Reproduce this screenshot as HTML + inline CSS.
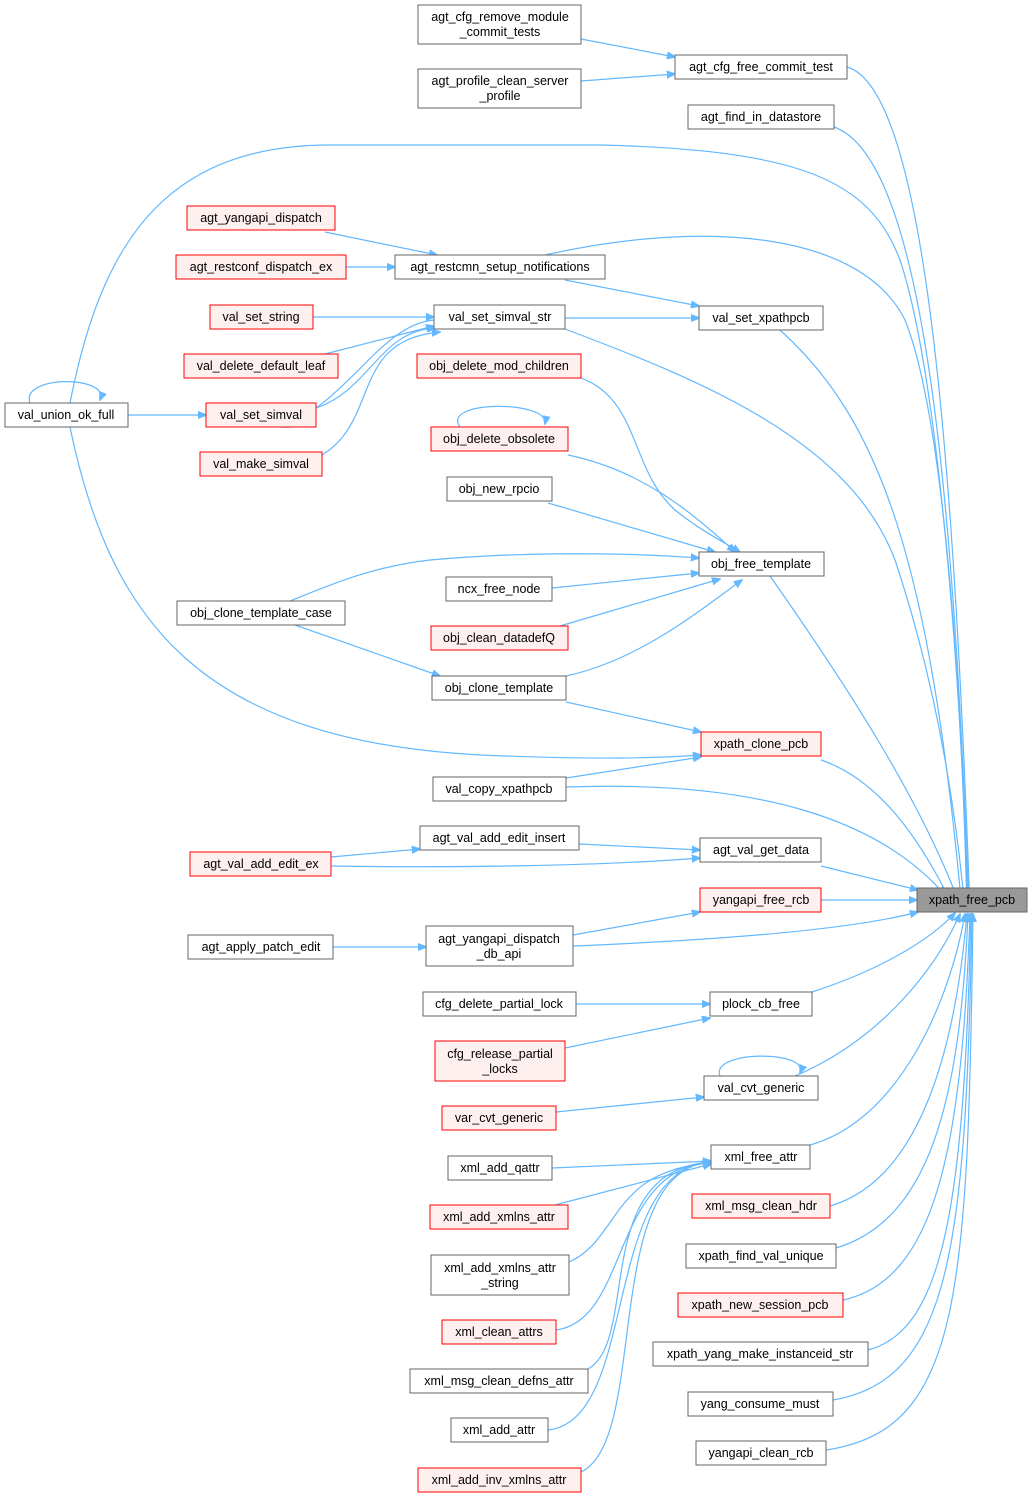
<!DOCTYPE html>
<html><head><meta charset="utf-8"><style>
html,body{margin:0;padding:0;background:#fff;}
svg{display:block;}
text{font-family:"Liberation Sans",Arial,sans-serif;font-size:12.5px;fill:#000;}
.n rect{fill:#fff;stroke:#666;stroke-width:1;}
.r rect{fill:#fff0f0;stroke:#f00;stroke-width:1;}
.g rect{fill:#999;stroke:#666;stroke-width:1;}
.e{fill:none;stroke:#63b8ff;stroke-width:1.2;}
</style></head><body>
<svg width="1033" height="1499" viewBox="0 0 1033 1499" xmlns="http://www.w3.org/2000/svg">
<defs><marker id="a" viewBox="0 0 10 10" refX="9" refY="5" markerWidth="9" markerHeight="9" orient="auto" markerUnits="userSpaceOnUse"><path d="M0,1 L10,5 L0,9 z" fill="#63b8ff" stroke="#63b8ff"/></marker></defs>
<g class="e" marker-end="url(#a)">
<!-- to xpath_free_pcb -->
<path d="M847,67 C930,90 955,500 970,910"/>
<path d="M834,127 C930,160 955,540 969,910"/>
<path d="M70,403 C100,250 160,145 330,145 L600,145 C800,150 870,180 900,260 C940,380 962,700 968,910"/>
<path d="M545,255 C700,220 860,230 905,320 C945,420 962,700 967,910"/>
<path d="M565,329 C700,380 850,440 895,560 C935,680 955,800 965,910"/>
<path d="M780,330 C880,420 930,560 962,910"/>
<path d="M770,576 C850,690 920,800 958,900"/>
<path d="M821,760 C880,780 920,840 950,900"/>
<path d="M566,787 C760,780 880,820 945,895"/>
<path d="M821,866 L918,890"/>
<path d="M821,900 L917,900"/>
<path d="M573,946 C720,940 850,930 918,912"/>
<path d="M812,992 C880,970 930,940 955,913"/>
<path d="M795,1076 C880,1040 935,970 960,914"/>
<path d="M810,1145 C900,1120 950,1000 965,914"/>
<path d="M830,1206 C920,1180 955,1050 967,914"/>
<path d="M836,1248 C930,1220 960,1100 968,914"/>
<path d="M843,1300 C935,1280 962,1150 970,914"/>
<path d="M868,1350 C945,1330 964,1200 971,914"/>
<path d="M833,1400 C950,1380 966,1250 972,914"/>
<path d="M826,1450 C960,1430 968,1300 973,914"/>
<!-- others -->
<path d="M581,39 L675,57"/>
<path d="M581,81 L675,74"/>
<path d="M325,232 L437,255"/>
<path d="M346,267 L395,267"/>
<path d="M313,317 L434,317"/>
<path d="M325,354 L434,326"/>
<path d="M316,408 C370,390 380,330 436,328"/>
<path d="M434,320 C380,325 350,400 282,427"/>
<path d="M322,455 C380,420 350,340 440,332"/>
<path d="M128,415 L206,415"/>
<path d="M30,403 C20,375 110,375 100,400"/>
<path d="M565,318 L699,318"/>
<path d="M565,280 L699,306"/>
<path d="M581,378 C640,400 630,470 675,510 C700,530 720,540 740,552"/>
<path d="M568,455 C640,470 690,510 735,552"/>
<path d="M460,427 C440,400 550,400 545,424"/>
<path d="M548,503 L715,552"/>
<path d="M290,601 C330,585 370,567 430,560 C520,552 620,552 699,558"/>
<path d="M552,588 L699,573"/>
<path d="M560,626 L720,579"/>
<path d="M566,676 C640,660 700,610 742,580"/>
<path d="M295,625 L440,676"/>
<path d="M566,702 L701,732"/>
<path d="M70,427 C110,620 200,740 480,755 C600,760 660,758 701,755"/>
<path d="M566,778 L701,757"/>
<path d="M579,844 L700,850"/>
<path d="M331,857 L420,849"/>
<path d="M331,866 C450,868 600,866 700,858"/>
<path d="M573,935 L700,912"/>
<path d="M333,947 L426,947"/>
<path d="M576,1004 L710,1004"/>
<path d="M565,1048 L710,1018"/>
<path d="M720,1076 C710,1050 810,1050 800,1073"/>
<path d="M556,1112 L704,1097"/>
<path d="M552,1168 L711,1161"/>
<path d="M555,1205 L711,1164"/>
<path d="M569,1262 C620,1240 610,1170 711,1163"/>
<path d="M556,1330 C630,1320 610,1170 711,1162"/>
<path d="M588,1369 C640,1340 590,1170 711,1162"/>
<path d="M548,1430 C640,1420 600,1170 711,1162"/>
<path d="M581,1472 C650,1440 600,1170 711,1162"/>
</g>
<g class="n"><rect x="418" y="5" width="163" height="39"/><text x="500" y="21" text-anchor="middle">agt_cfg_remove_module</text><text x="500" y="36" text-anchor="middle">_commit_tests</text></g>
<g class="n"><rect x="418" y="69" width="163" height="39"/><text x="500" y="85" text-anchor="middle">agt_profile_clean_server</text><text x="500" y="100" text-anchor="middle">_profile</text></g>
<g class="n"><rect x="675" y="55" width="172" height="24"/><text x="761" y="71" text-anchor="middle">agt_cfg_free_commit_test</text></g>
<g class="n"><rect x="688" y="105" width="146" height="24"/><text x="761" y="121" text-anchor="middle">agt_find_in_datastore</text></g>
<g class="r"><rect x="187" y="206" width="148" height="24"/><text x="261" y="222" text-anchor="middle">agt_yangapi_dispatch</text></g>
<g class="r"><rect x="176" y="255" width="170" height="24"/><text x="261" y="271" text-anchor="middle">agt_restconf_dispatch_ex</text></g>
<g class="n"><rect x="395" y="255" width="210" height="24"/><text x="500" y="271" text-anchor="middle">agt_restcmn_setup_notifications</text></g>
<g class="r"><rect x="210" y="305" width="103" height="24"/><text x="261" y="321" text-anchor="middle">val_set_string</text></g>
<g class="n"><rect x="434" y="305" width="131" height="24"/><text x="500" y="321" text-anchor="middle">val_set_simval_str</text></g>
<g class="n"><rect x="699" y="306" width="124" height="24"/><text x="761" y="322" text-anchor="middle">val_set_xpathpcb</text></g>
<g class="r"><rect x="184" y="354" width="154" height="24"/><text x="261" y="370" text-anchor="middle">val_delete_default_leaf</text></g>
<g class="r"><rect x="417" y="354" width="164" height="24"/><text x="499" y="370" text-anchor="middle">obj_delete_mod_children</text></g>
<g class="n"><rect x="5" y="403" width="123" height="24"/><text x="66" y="419" text-anchor="middle">val_union_ok_full</text></g>
<g class="r"><rect x="206" y="403" width="110" height="24"/><text x="261" y="419" text-anchor="middle">val_set_simval</text></g>
<g class="r"><rect x="431" y="427" width="137" height="24"/><text x="499" y="443" text-anchor="middle">obj_delete_obsolete</text></g>
<g class="r"><rect x="200" y="452" width="122" height="24"/><text x="261" y="468" text-anchor="middle">val_make_simval</text></g>
<g class="n"><rect x="447" y="477" width="105" height="24"/><text x="499" y="493" text-anchor="middle">obj_new_rpcio</text></g>
<g class="n"><rect x="699" y="552" width="125" height="24"/><text x="761" y="568" text-anchor="middle">obj_free_template</text></g>
<g class="n"><rect x="446" y="577" width="106" height="24"/><text x="499" y="593" text-anchor="middle">ncx_free_node</text></g>
<g class="n"><rect x="177" y="601" width="168" height="24"/><text x="261" y="617" text-anchor="middle">obj_clone_template_case</text></g>
<g class="r"><rect x="431" y="626" width="137" height="24"/><text x="499" y="642" text-anchor="middle">obj_clean_datadefQ</text></g>
<g class="n"><rect x="432" y="676" width="134" height="24"/><text x="499" y="692" text-anchor="middle">obj_clone_template</text></g>
<g class="r"><rect x="701" y="732" width="120" height="24"/><text x="761" y="748" text-anchor="middle">xpath_clone_pcb</text></g>
<g class="n"><rect x="433" y="777" width="133" height="24"/><text x="499" y="793" text-anchor="middle">val_copy_xpathpcb</text></g>
<g class="n"><rect x="420" y="826" width="159" height="24"/><text x="499" y="842" text-anchor="middle">agt_val_add_edit_insert</text></g>
<g class="n"><rect x="700" y="838" width="121" height="24"/><text x="761" y="854" text-anchor="middle">agt_val_get_data</text></g>
<g class="r"><rect x="190" y="852" width="141" height="24"/><text x="261" y="868" text-anchor="middle">agt_val_add_edit_ex</text></g>
<g class="r"><rect x="700" y="888" width="121" height="24"/><text x="761" y="904" text-anchor="middle">yangapi_free_rcb</text></g>
<g class="g"><rect x="917" y="888" width="110" height="24"/><text x="972" y="904" text-anchor="middle">xpath_free_pcb</text></g>
<g class="n"><rect x="188" y="935" width="145" height="24"/><text x="261" y="951" text-anchor="middle">agt_apply_patch_edit</text></g>
<g class="n"><rect x="426" y="926" width="147" height="40"/><text x="499" y="943" text-anchor="middle">agt_yangapi_dispatch</text><text x="499" y="958" text-anchor="middle">_db_api</text></g>
<g class="n"><rect x="423" y="992" width="153" height="24"/><text x="499" y="1008" text-anchor="middle">cfg_delete_partial_lock</text></g>
<g class="n"><rect x="710" y="992" width="102" height="24"/><text x="761" y="1008" text-anchor="middle">plock_cb_free</text></g>
<g class="r"><rect x="435" y="1041" width="130" height="40"/><text x="500" y="1058" text-anchor="middle">cfg_release_partial</text><text x="500" y="1073" text-anchor="middle">_locks</text></g>
<g class="n"><rect x="704" y="1076" width="114" height="24"/><text x="761" y="1092" text-anchor="middle">val_cvt_generic</text></g>
<g class="r"><rect x="442" y="1106" width="114" height="24"/><text x="499" y="1122" text-anchor="middle">var_cvt_generic</text></g>
<g class="n"><rect x="711" y="1145" width="99" height="24"/><text x="761" y="1161" text-anchor="middle">xml_free_attr</text></g>
<g class="n"><rect x="448" y="1156" width="104" height="24"/><text x="500" y="1172" text-anchor="middle">xml_add_qattr</text></g>
<g class="r"><rect x="692" y="1194" width="138" height="24"/><text x="761" y="1210" text-anchor="middle">xml_msg_clean_hdr</text></g>
<g class="r"><rect x="430" y="1205" width="138" height="24"/><text x="499" y="1221" text-anchor="middle">xml_add_xmlns_attr</text></g>
<g class="n"><rect x="686" y="1244" width="150" height="24"/><text x="761" y="1260" text-anchor="middle">xpath_find_val_unique</text></g>
<g class="n"><rect x="431" y="1255" width="138" height="40"/><text x="500" y="1272" text-anchor="middle">xml_add_xmlns_attr</text><text x="500" y="1287" text-anchor="middle">_string</text></g>
<g class="r"><rect x="678" y="1293" width="165" height="24"/><text x="760" y="1309" text-anchor="middle">xpath_new_session_pcb</text></g>
<g class="r"><rect x="442" y="1320" width="114" height="24"/><text x="499" y="1336" text-anchor="middle">xml_clean_attrs</text></g>
<g class="n"><rect x="653" y="1342" width="215" height="24"/><text x="760" y="1358" text-anchor="middle">xpath_yang_make_instanceid_str</text></g>
<g class="n"><rect x="410" y="1369" width="178" height="24"/><text x="499" y="1385" text-anchor="middle">xml_msg_clean_defns_attr</text></g>
<g class="n"><rect x="688" y="1392" width="145" height="24"/><text x="760" y="1408" text-anchor="middle">yang_consume_must</text></g>
<g class="n"><rect x="451" y="1418" width="97" height="24"/><text x="499" y="1434" text-anchor="middle">xml_add_attr</text></g>
<g class="n"><rect x="696" y="1441" width="130" height="24"/><text x="761" y="1457" text-anchor="middle">yangapi_clean_rcb</text></g>
<g class="r"><rect x="418" y="1468" width="163" height="24"/><text x="499" y="1484" text-anchor="middle">xml_add_inv_xmlns_attr</text></g>
</svg>
</body></html>
